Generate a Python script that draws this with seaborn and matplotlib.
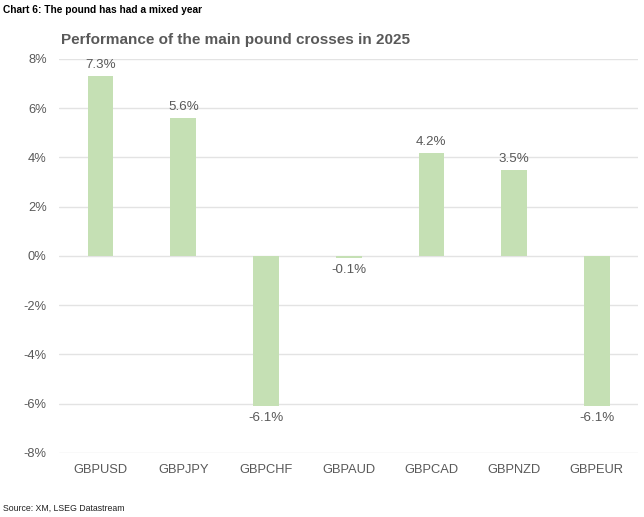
import matplotlib
matplotlib.use('Agg')
import matplotlib.pyplot as plt
import seaborn as sns
import pandas as pd
from matplotlib.ticker import FuncFormatter

# chart values
crosses = ['GBPUSD', 'GBPJPY', 'GBPCHF', 'GBPAUD', 'GBPCAD', 'GBPNZD', 'GBPEUR']
perf = [7.3, 5.6, -6.1, -0.1, 4.2, 3.5, -6.1]
y_ticks = [-8, -6, -4, -2, 0, 2, 4, 6, 8]

df = pd.DataFrame({'cross': crosses, 'perf': perf})

sns.set_style('white')
plt.rcParams['font.family'] = ['Liberation Sans', 'DejaVu Sans']

grey = '#595959'
fig = plt.figure(figsize=(6.44, 5.17), dpi=100)
ax = fig.add_axes([0.092, 0.124, 0.899, 0.762])

sns.barplot(data=df, x='cross', y='perf', color='#C5E0B4', width=0.31,
            saturation=1, linewidth=0, edgecolor='none', ax=ax, zorder=3)

ax.set_ylim(-8, 8)
ax.set_yticks(y_ticks)
ax.yaxis.set_major_formatter(FuncFormatter(lambda v, p: f'{v:.0f}%'))
ax.grid(axis='y', color='#E3E3E3', linewidth=1.0, zorder=0)
ax.set_axisbelow(True)
for s in ax.spines.values():
    s.set_visible(False)
ax.tick_params(axis='both', length=0, colors=grey, labelsize=9.3)
ax.tick_params(axis='x', pad=8)
ax.tick_params(axis='y', pad=9)
ax.set_xlabel('')
ax.set_ylabel('')

# value labels
for i, v in enumerate(perf):
    off = 3.5 if v >= 0 else -4
    ax.annotate(f'{v:.1f}%', (i, v), xytext=(0, off), textcoords='offset points',
                ha='center', va='bottom' if v >= 0 else 'top',
                fontsize=9.6, color=grey)

fig.text(0.094, 0.922, 'Performance of the main pound crosses in 2025',
         fontsize=11, fontweight='bold', color=grey, va='center')
fig.text(0.004, 0.981, 'Chart 6: The pound has had a mixed year',
         fontsize=7.3, fontweight='bold', color='black', va='center')
fig.text(0.004, 0.017, 'Source: XM, LSEG Datastream',
         fontsize=6.3, color='#222222', va='center')

fig.savefig('out.png', dpi=100)
